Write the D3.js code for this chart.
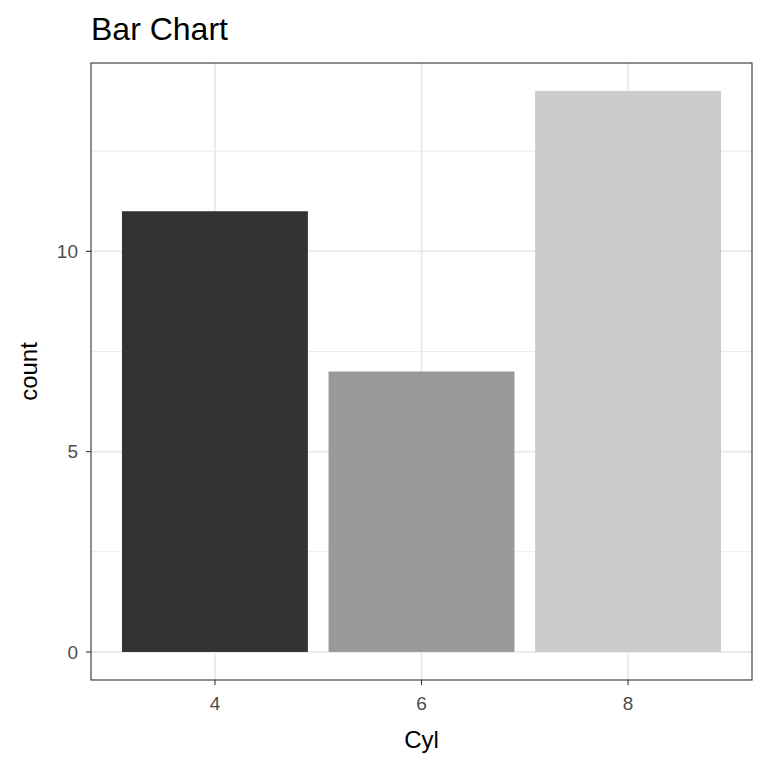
<!DOCTYPE html>
<html><head><meta charset="utf-8">
<script src="https://cdn.jsdelivr.net/npm/d3@7"></script>
<style>body{margin:0;background:#fff}</style></head>
<body><svg id="c" width="768" height="768"></svg>
<script>
const categories = ["4","6","8"];
const counts = [11, 7, 14];
const fills = ["#333333","#999999","#CCCCCC"];
const yTicks = [0,5,10];
const yMinor = [2.5,7.5,12.5];

const svg = d3.select("#c");
const L=91,R=752,T=63,B=680;
const step = (R-L)/(categories.length-1+1.2);
const xc = c => L + step*(0.6+categories.indexOf(c));
const y = d3.scaleLinear().domain([-0.7,14.7]).range([B,T]);
const font = "Liberation Sans, Arial, sans-serif";

svg.append("rect").attr("x",L).attr("y",T).attr("width",R-L).attr("height",B-T).attr("fill","#fff");
const g = svg.append("g");
yMinor.forEach(v=>g.append("line").attr("x1",L).attr("x2",R).attr("y1",y(v)).attr("y2",y(v)).attr("stroke","#EBEBEB").attr("stroke-width",1));
yTicks.forEach(v=>g.append("line").attr("x1",L).attr("x2",R).attr("y1",y(v)).attr("y2",y(v)).attr("stroke","#EBEBEB").attr("stroke-width",2));
categories.forEach(c=>g.append("line").attr("x1",xc(c)).attr("x2",xc(c)).attr("y1",T).attr("y2",B).attr("stroke","#EBEBEB").attr("stroke-width",2));

const bw = step*0.9;
svg.selectAll(".bar").data(counts).enter().append("rect")
  .attr("x",(d,i)=>xc(categories[i])-bw/2).attr("width",bw)
  .attr("y",d=>y(d)).attr("height",d=>y(0)-y(d)).attr("fill",(d,i)=>fills[i]);

svg.append("rect").attr("x",L).attr("y",T).attr("width",R-L).attr("height",B-T).attr("fill","none").attr("stroke","#333").attr("stroke-width",1.1);

yTicks.forEach(v=>{
  svg.append("line").attr("x1",L-5).attr("x2",L).attr("y1",y(v)).attr("y2",y(v)).attr("stroke","#333").attr("stroke-width",1.1);
  svg.append("text").attr("x",L-13).attr("y",y(v)).attr("dy","0.35em").attr("text-anchor","end")
    .attr("font-family",font).attr("font-size",19).attr("fill","#4D4D4D").text(v);
});
categories.forEach(c=>{
  svg.append("line").attr("x1",xc(c)).attr("x2",xc(c)).attr("y1",B).attr("y2",B+5).attr("stroke","#333").attr("stroke-width",1.1);
  svg.append("text").attr("x",xc(c)).attr("y",B+30).attr("text-anchor","middle")
    .attr("font-family",font).attr("font-size",19).attr("fill","#4D4D4D").text(c);
});
svg.append("text").attr("x",(L+R)/2).attr("y",748).attr("text-anchor","middle").attr("font-family",font).attr("font-size",24).text("Cyl");
svg.append("text").attr("transform",`translate(37,${(T+B)/2}) rotate(-90)`).attr("text-anchor","middle").attr("font-family",font).attr("font-size",24).text("count");
svg.append("text").attr("x",L).attr("y",40).attr("font-family",font).attr("font-size",32).text("Bar Chart");
</script></body></html>
